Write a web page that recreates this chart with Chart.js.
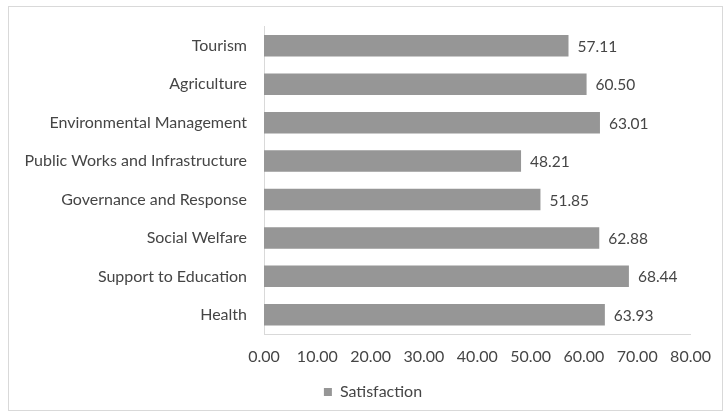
<!DOCTYPE html>
<html>
<head>
<meta charset="utf-8">
<script src="https://cdn.jsdelivr.net/npm/chart.js@4"></script>
<style>
  html, body { margin: 0; padding: 0; background: #ffffff; }
  #wrap { position: relative; width: 724px; height: 414px; }
</style>
</head>
<body>
<div id="wrap"><canvas id="chart" width="724" height="414"></canvas></div>
<script>
// Satisfaction score per service area (top to bottom)
const categories = [
  'Tourism',
  'Agriculture',
  'Environmental Management',
  'Public Works and Infrastructure',
  'Governance and Response',
  'Social Welfare',
  'Support to Education',
  'Health'
];
const satisfaction = [57.11, 60.50, 63.01, 48.21, 51.85, 62.88, 68.44, 63.93];
const seriesName = 'Satisfaction';
const axisMin = 0;
const axisMax = 80;
const axisStep = 10;

const FONT = 'Lato, "Open Sans", sans-serif';
const TEXT = '#454545';
const BAR = '#969696';
const LINE = '#d9d9d9';

// Outer frame around the whole chart
const framePlugin = {
  id: 'frame',
  beforeDraw(chart) {
    const ctx = chart.ctx;
    ctx.save();
    ctx.fillStyle = '#ffffff';
    ctx.fillRect(0, 0, chart.width, chart.height);
    ctx.strokeStyle = LINE;
    ctx.lineWidth = 1;
    ctx.strokeRect(8.5, 6.5, 714, 404);
    ctx.restore();
  }
};

// Center the legend under the middle of the frame rather than the full canvas
const legendSpanPlugin = {
  id: 'legendSpan',
  afterLayout(chart) {
    if (chart.legend) {
      chart.legend.left = 54;
      chart.legend.right = 692;
    }
  }
};

// Value printed just past the end of each bar
const valueLabelPlugin = {
  id: 'valueLabels',
  afterDatasetsDraw(chart) {
    const ctx = chart.ctx;
    const meta = chart.getDatasetMeta(0);
    const data = chart.data.datasets[0].data;
    ctx.save();
    ctx.font = '15.5px ' + FONT;
    ctx.fillStyle = TEXT;
    ctx.textAlign = 'left';
    ctx.textBaseline = 'middle';
    meta.data.forEach((bar, i) => {
      ctx.fillText(Number(data[i]).toFixed(2), bar.x + 9, bar.y + 1);
    });
    ctx.restore();
  }
};

new Chart(document.getElementById('chart'), {
  type: 'bar',
  data: {
    labels: categories,
    datasets: [{
      label: seriesName,
      data: satisfaction,
      backgroundColor: BAR,
      borderWidth: 0,
      categoryPercentage: 1.0,
      barPercentage: 0.56
    }]
  },
  options: {
    indexAxis: 'y',
    responsive: false,
    animation: false,
    devicePixelRatio: 1,
    layout: { autoPadding: false, padding: { left: 8, right: 30.5, top: 17.4, bottom: 4 } },
    plugins: {
      tooltip: { enabled: false },
      legend: {
        position: 'bottom',
        labels: {
          font: { family: FONT, size: 16 },
          color: TEXT,
          boxWidth: 8,
          boxHeight: 8,
          padding: 9
        }
      }
    },
    scales: {
      x: {
        min: axisMin,
        max: axisMax,
        grid: { display: false, drawTicks: false },
        border: { display: true, color: LINE, width: 1 },
        ticks: {
          stepSize: axisStep,
          padding: 13,
          maxRotation: 0,
          autoSkip: false,
          color: TEXT,
          font: { family: FONT, size: 16 },
          callback: (v) => Number(v).toFixed(2)
        },
        afterFit(scale) { scale.height = 41; }
      },
      y: {
        grid: { display: false, drawTicks: false },
        border: { display: true, color: LINE, width: 1 },
        ticks: {
          padding: 17,
          autoSkip: false,
          color: TEXT,
          font: { family: FONT, size: 16 }
        },
        afterFit(scale) { scale.width = 256; }
      }
    }
  },
  plugins: [framePlugin, legendSpanPlugin, valueLabelPlugin]
});
</script>
</body>
</html>
